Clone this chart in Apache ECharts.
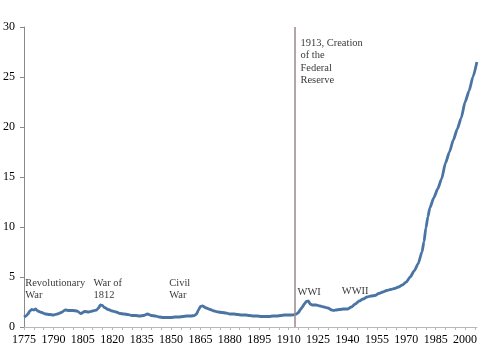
<!DOCTYPE html>
<html>
<head>
<meta charset="utf-8">
<script src="https://cdn.jsdelivr.net/npm/echarts@6/dist/echarts.min.js"></script>
<style>html,body{margin:0;padding:0;background:#fff}#c{width:480px;height:360px}</style>
</head>
<body>
<div id="c"></div>
<script>
var years = [1775,1776,1777,1778,1779,1780,1781,1782,1784,1786,1788,1790,1792,1794,1796,1798,1800,1802,1804,1806,1808,1810,1812,1813,1814,1815,1816,1818,1820,1822,1824,1826,1828,1830,1832,1834,1836,1838,1840,1842,1844,1846,1848,1850,1852,1854,1856,1858,1860,1862,1863,1864,1865,1866,1868,1870,1872,1874,1876,1878,1880,1882,1884,1886,1888,1890,1892,1894,1896,1898,1900,1902,1904,1906,1908,1910,1912,1913,1914,1915,1916,1917,1918,1919,1920,1921,1922,1924,1926,1928,1930,1932,1933,1934,1936,1938,1940,1942,1944,1946,1948,1950,1952,1954,1956,1958,1960,1962,1964,1966,1968,1970,1972,1974,1976,1978,1979,1980,1981,1982,1984,1986,1988,1990,1992,1994,1996,1998,2000,2002,2004,2006];
var values = [1.0,1.1,1.3,1.6,1.75,1.7,1.8,1.6,1.45,1.3,1.25,1.2,1.3,1.45,1.7,1.65,1.65,1.6,1.35,1.55,1.5,1.6,1.7,1.9,2.2,2.15,1.95,1.75,1.6,1.5,1.35,1.3,1.25,1.15,1.15,1.1,1.15,1.3,1.15,1.1,1.0,0.95,0.95,0.95,1.0,1.0,1.05,1.1,1.1,1.15,1.3,1.7,2.05,2.1,1.9,1.75,1.6,1.5,1.45,1.4,1.3,1.3,1.25,1.2,1.2,1.15,1.1,1.1,1.05,1.05,1.05,1.1,1.1,1.15,1.2,1.2,1.2,1.25,1.3,1.45,1.75,2.0,2.3,2.55,2.6,2.3,2.2,2.2,2.1,2.0,1.9,1.7,1.65,1.7,1.75,1.8,1.8,2.0,2.3,2.6,2.8,3.0,3.1,3.15,3.35,3.5,3.65,3.75,3.85,4.0,4.2,4.5,5.0,5.6,6.3,7.5,8.5,9.9,11.0,11.9,12.9,13.8,14.8,16.4,17.5,18.7,19.8,20.9,22.5,23.6,25.0,26.5];
var yTicks = [0,5,10,15,20,25,30];
var fedYear = 1913;
var annotations = [
  [1775.6, 5.05, 'Revolutionary\nWar'],
  [1810.4, 5.05, 'War of\n1812'],
  [1849.1, 5.05, 'Civil\nWar'],
  [1914.5, 4.15, 'WWI'],
  [1937.1, 4.2, 'WWII'],
  [1916.0, 29.05, '1913, Creation\nof the\nFederal\nReserve']
];

var font = '"Liberation Serif", "Times New Roman", serif';
var chart = echarts.init(document.getElementById('c'), null, {renderer: 'canvas'});
chart.setOption({
  animation: false,
  backgroundColor: '#fff',
  grid: {left: 20, right: 0, top: 27, bottom: 33, containLabel: false},
  xAxis: {
    type: 'value', min: 1775, max: 2006, interval: 5,
    axisLine: {show: true, onZero: false, lineStyle: {color: '#b8b8b8', width: 1}},
    axisTick: {show: true, length: 3, lineStyle: {color: '#b8b8b8'}},
    splitLine: {show: false},
    axisLabel: {
      color: '#000', fontFamily: font, fontSize: 12, margin: 7,
      showMaxLabel: false,
      formatter: function (v) { return ((v - 1775) % 15 === 0) ? String(v) : ''; }
    }
  },
  yAxis: {
    type: 'value', min: yTicks[0], max: yTicks[yTicks.length - 1], interval: 5,
    axisLine: {show: true, lineStyle: {color: '#8a8a8a', width: 1}},
    axisTick: {show: true, length: 4, lineStyle: {color: '#8a8a8a'}},
    splitLine: {show: false},
    axisLabel: {color: '#000', fontFamily: font, fontSize: 12, margin: 9}
  },
  series: [
    {
      type: 'line',
      data: years.map(function (y, i) { return [y, values[i]]; }),
      showSymbol: false,
      smooth: 0.2,
      smoothMonotone: 'x',
      lineStyle: {color: '#4a74a3', width: 2.8},
      silent: true,
      markLine: {
        silent: true,
        symbol: 'none',
        label: {show: false},
        lineStyle: {color: '#9c868a', width: 1.5, type: 'solid'},
        data: [{xAxis: fedYear}]
      },
      z: 3
    },
    {
      type: 'scatter',
      symbolSize: 0,
      silent: true,
      data: annotations,
      label: {
        show: true,
        position: [0, 0],
        align: 'left',
        verticalAlign: 'top',
        fontFamily: font,
        fontSize: 10.5,
        lineHeight: 12.5,
        color: '#000',
        formatter: function (p) { return p.data[2]; }
      },
      z: 4
    }
  ]
});
</script>
</body>
</html>
